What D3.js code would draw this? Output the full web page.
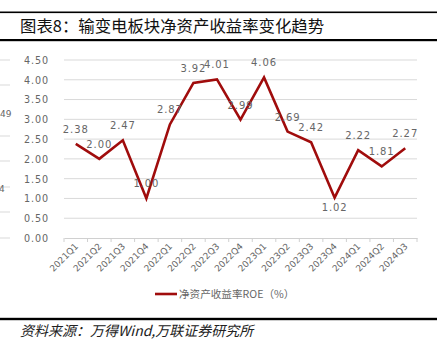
<!DOCTYPE html>
<html><head><meta charset="utf-8">
<script src="https://cdn.jsdelivr.net/npm/d3@7"></script>
<style>
html,body{margin:0;padding:0;background:#fff;}
svg{display:block;}
</style></head>
<body>
<svg id="c" width="444" height="356"></svg>
<script>
const categories = ["2021Q1","2021Q2","2021Q3","2021Q4","2022Q1","2022Q2","2022Q3","2022Q4","2023Q1","2023Q2","2023Q3","2023Q4","2024Q1","2024Q2","2024Q3"];
const roe = [2.38,2.00,2.47,1.00,2.87,3.92,4.01,2.99,4.06,2.69,2.42,1.02,2.22,1.81,2.27];
const yTicks = [0,0.5,1,1.5,2,2.5,3,3.5,4,4.5];
const labelBelow = [false,false,false,false,false,false,false,false,false,false,false,true,false,false,false];
const seriesName = "净资产收益率ROE（%）";
const titleText = "图表8：输变电板块净资产收益率变化趋势";
const sourceText = "资料来源：万得Wind,万联证券研究所";

const svg = d3.select("#c");
const red = "#A00C0C";
const grey = "#666666";

// frame lines
svg.append("rect").attr("x",0).attr("y",11.5).attr("width",437).attr("height",1.6).attr("fill","#000");
svg.append("rect").attr("x",0).attr("y",39).attr("width",437).attr("height",2.2).attr("fill","#000");
svg.append("rect").attr("x",0).attr("y",317.8).attr("width",437).attr("height",2.4).attr("fill","#000");

svg.append("text").attr("x",20).attr("y",32).attr("font-family","'Noto Sans CJK SC'").attr("font-size",16.4).attr("fill","#111").text(titleText);
svg.append("text").attr("x",20).attr("y",335.5).attr("font-family","'Noto Sans CJK SC'").attr("font-size",14).attr("font-style","italic").attr("fill","#222").text(sourceText);

// neighbouring chart fragment at left edge
const fragY = [60,85,136,161,187,212,238];
svg.selectAll(".frag").data(fragY).enter().append("line")
  .attr("x1",0).attr("x2",10).attr("y1",d=>d).attr("y2",d=>d).attr("stroke","#d9d9d9").attr("stroke-width",1);
svg.append("text").attr("x",0).attr("y",116.5).attr("font-family","'DejaVu Sans'").attr("font-size",9).attr("fill",grey).text("49");
svg.append("text").attr("x",-1).attr("y",191.5).attr("font-family","'DejaVu Sans'").attr("font-size",9).attr("fill",grey).text("4");

// scales
const x = d3.scaleBand().domain(categories).range([64,417]);
const y = d3.scaleLinear().domain([0,4.5]).range([238,60]);

// gridlines
svg.append("g").selectAll("line").data(yTicks.filter(d=>d>0)).enter().append("line")
  .attr("x1",64).attr("x2",417).attr("y1",d=>y(d)).attr("y2",d=>y(d))
  .attr("stroke","#d9d9d9").attr("stroke-width",1);

// y axis labels
const yAxis = d3.axisLeft(y).tickValues(yTicks).tickFormat(d3.format(".2f")).tickSize(0).tickPadding(0);
const gy = svg.append("g").attr("transform","translate(49,0)").call(yAxis);
gy.select(".domain").remove();
gy.selectAll("text").attr("font-family","'DejaVu Sans'").attr("font-size",9.6).attr("fill",grey).attr("letter-spacing","0.9px").attr("dy","0.35em");

// x axis
const xAxis = d3.axisBottom(x).tickSize(0).tickPadding(0);
const gx = svg.append("g").attr("transform","translate(0,238)").call(xAxis);
gx.select(".domain").attr("stroke","#d0d0d0");
gx.selectAll(".tick line").remove();
const bounds = categories.map(c=>x(c)).concat([417]);
gx.selectAll(".bt").data(bounds).enter().append("line").attr("class","bt")
  .attr("x1",d=>d).attr("x2",d=>d).attr("y1",0).attr("y2",4).attr("stroke","#d0d0d0");
gx.selectAll(".tick text")
  .attr("font-family","'DejaVu Sans'").attr("font-size",9).attr("fill",grey)
  .attr("text-anchor","end").attr("dy",null).attr("y",0)
  .attr("transform","translate(3,9) rotate(-45)");

// line
const line = d3.line().x((d,i)=>x(categories[i])+x.bandwidth()/2).y(d=>y(d));
svg.append("path").datum(roe).attr("d",line).attr("fill","none").attr("stroke",red).attr("stroke-width",2.6).attr("stroke-linejoin","miter");

// data labels
svg.append("g").selectAll("text").data(roe).enter().append("text")
  .attr("x",(d,i)=>x(categories[i])+x.bandwidth()/2)
  .attr("y",(d,i)=>labelBelow[i] ? y(d)+13.5 : y(d)-11)
  .attr("text-anchor","middle").attr("font-family","'DejaVu Sans'").attr("font-size",10).attr("fill",grey)
  .attr("letter-spacing","0.9px").text(d=>d3.format(".2f")(d));

// legend
svg.append("line").attr("x1",155).attr("x2",177).attr("y1",294).attr("y2",294).attr("stroke",red).attr("stroke-width",2.6);
svg.append("text").attr("x",179).attr("y",298).attr("font-family","'Noto Sans CJK SC'").attr("font-size",10.6).attr("fill",grey).text(seriesName);
</script>
</body></html>
